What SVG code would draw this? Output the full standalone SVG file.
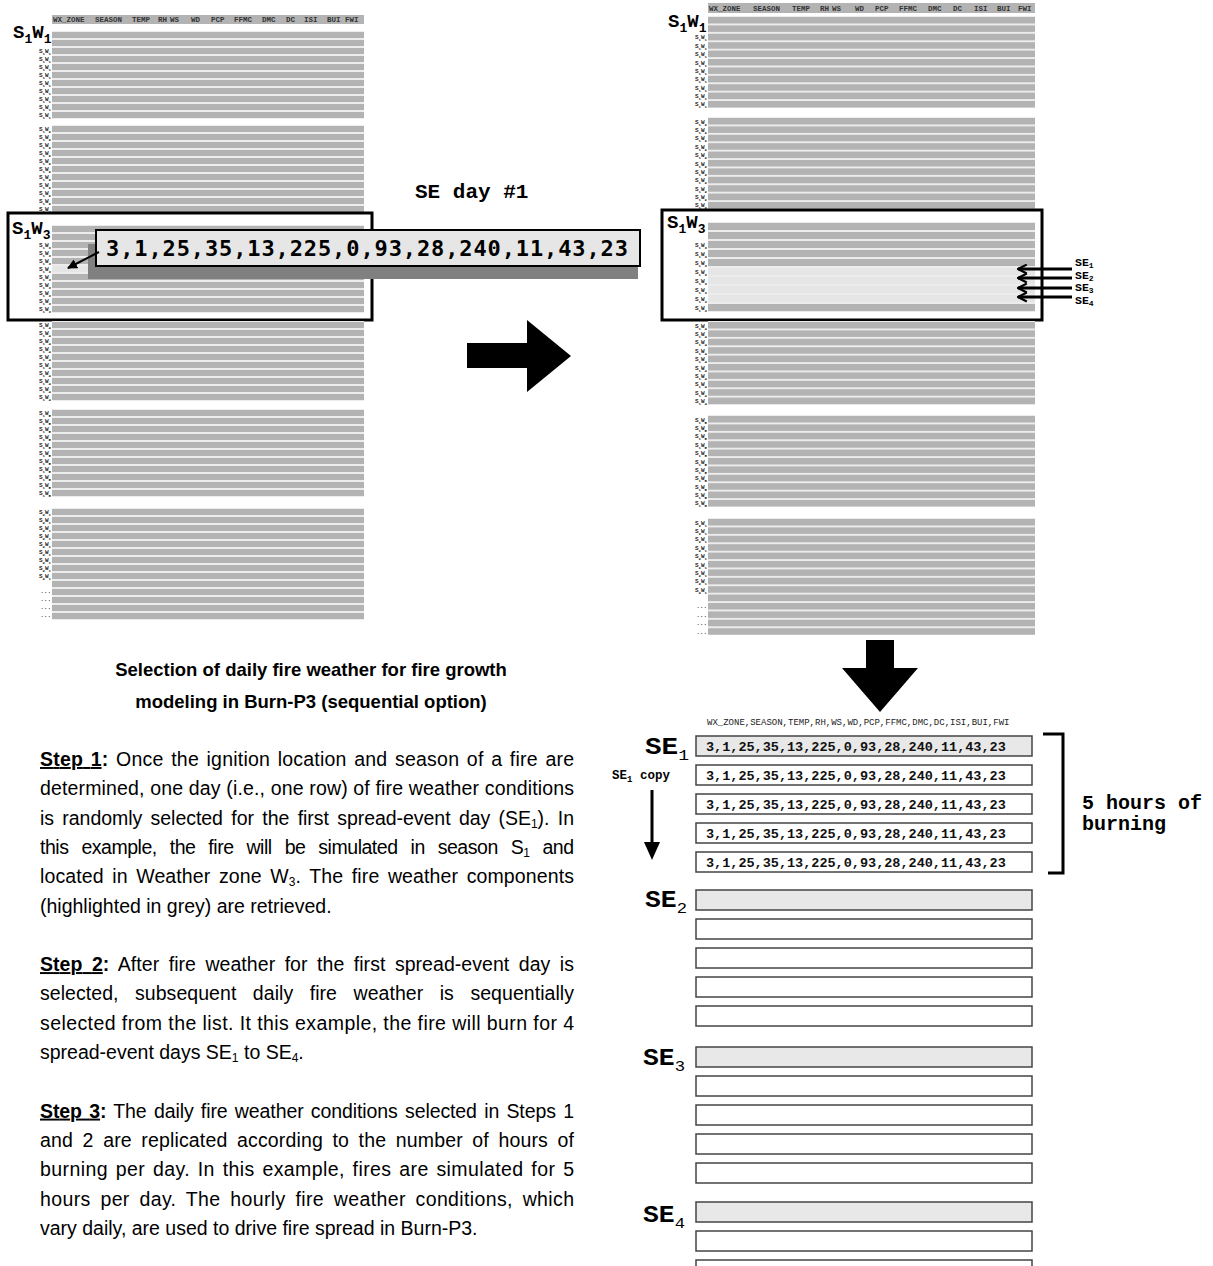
<svg xmlns="http://www.w3.org/2000/svg" width="1213" height="1266" viewBox="0 0 1213 1266">
<style>
.bar{fill:#b3b3b3}
.lt{fill:#e6e6e6}
.bg{fill:#ececec}
.sl{font-family:"Liberation Mono",monospace;font-weight:bold;font-size:6px;fill:#222}
.s{font-size:4px;baseline-shift:-1.5px}
.hd{font-family:"Liberation Mono",monospace;font-weight:bold;font-size:7.5px;fill:#333}
.big{font-family:"Liberation Mono",monospace;font-weight:bold;font-size:19px;fill:#000}
.bs{font-size:13px;baseline-shift:-5px}
.box{fill:none;stroke:#000;stroke-width:3}
.row{fill:#fff;stroke:#444;stroke-width:1.5}
.rg{fill:#e8e8e8;stroke:#444;stroke-width:1.5}
.rt{font-family:"Liberation Mono",monospace;font-weight:bold;font-size:13.5px;fill:#111}
.se{font-family:"Liberation Mono",monospace;font-weight:bold;font-size:23px;fill:#000}
.ses{font-size:15px;font-weight:normal;baseline-shift:-6px}
.mono{font-family:"Liberation Mono",monospace;font-weight:bold;fill:#000}
.body{font-family:"Liberation Sans",Arial,sans-serif;font-size:19.5px;fill:#000}
.bsub{font-size:12px;baseline-shift:-3px}
.title{font-family:"Liberation Sans",Arial,sans-serif;font-size:18.5px;font-weight:bold;fill:#000}
</style>
<defs>
<marker id="tri" viewBox="0 0 10 10" refX="9" refY="5" markerWidth="10" markerHeight="10" markerUnits="userSpaceOnUse" orient="auto"><path d="M0,0 L10,5 L0,10 z" fill="#000"/></marker>
<marker id="chev" viewBox="0 0 10 10" refX="9" refY="5" markerWidth="11" markerHeight="11" markerUnits="userSpaceOnUse" orient="auto"><path d="M1,1 L9,5 L1,9" fill="none" stroke="#000" stroke-width="2"/></marker>
</defs>
<rect width="1213" height="1266" fill="#fff"/>

<!-- LEFT TABLE -->
<g id="left-table">
<rect class="bar" x="52" y="15" width="312" height="9"/>
<text class="hd" y="22"><tspan x="53">WX_ZONE</tspan><tspan x="95">SEASON</tspan><tspan x="132">TEMP</tspan><tspan x="158">RH</tspan><tspan x="170">WS</tspan><tspan x="191">WD</tspan><tspan x="211">PCP</tspan><tspan x="234">FFMC</tspan><tspan x="262">DMC</tspan><tspan x="286">DC</tspan><tspan x="304">ISI</tspan><tspan x="327">BUI</tspan><tspan x="345">FWI</tspan></text>
<g id="left-g1">
<rect class="bg" x="52" y="31" width="312" height="88"/>
<rect class="bar" x="52" y="32" width="312" height="6"/><rect class="bar" x="52" y="40" width="312" height="6"/><rect class="bar" x="52" y="48" width="312" height="6"/><rect class="bar" x="52" y="56" width="312" height="6"/><rect class="bar" x="52" y="64" width="312" height="6"/><rect class="bar" x="52" y="72" width="312" height="6"/><rect class="bar" x="52" y="80" width="312" height="6"/><rect class="bar" x="52" y="88" width="312" height="6"/><rect class="bar" x="52" y="96" width="312" height="6"/><rect class="bar" x="52" y="104" width="312" height="6"/><rect class="bar" x="52" y="112" width="312" height="6"/>
<text class="big" x="13" y="38">S<tspan class="bs">1</tspan>W<tspan class="bs">1</tspan></text>
<g class="sl" text-anchor="end">
<text x="51" y="53">S<tspan class="s">1</tspan>W<tspan class="s">1</tspan></text><text x="51" y="61">S<tspan class="s">1</tspan>W<tspan class="s">1</tspan></text><text x="51" y="69">S<tspan class="s">1</tspan>W<tspan class="s">1</tspan></text><text x="51" y="77">S<tspan class="s">1</tspan>W<tspan class="s">1</tspan></text><text x="51" y="85">S<tspan class="s">1</tspan>W<tspan class="s">1</tspan></text><text x="51" y="93">S<tspan class="s">1</tspan>W<tspan class="s">1</tspan></text><text x="51" y="101">S<tspan class="s">1</tspan>W<tspan class="s">1</tspan></text><text x="51" y="109">S<tspan class="s">1</tspan>W<tspan class="s">1</tspan></text><text x="51" y="117">S<tspan class="s">1</tspan>W<tspan class="s">1</tspan></text>
</g>
</g>
<g id="left-g2">
<rect class="bg" x="52" y="125" width="312" height="88"/>
<rect class="bar" x="52" y="126" width="312" height="6"/><rect class="bar" x="52" y="134" width="312" height="6"/><rect class="bar" x="52" y="142" width="312" height="6"/><rect class="bar" x="52" y="150" width="312" height="6"/><rect class="bar" x="52" y="158" width="312" height="6"/><rect class="bar" x="52" y="166" width="312" height="6"/><rect class="bar" x="52" y="174" width="312" height="6"/><rect class="bar" x="52" y="182" width="312" height="6"/><rect class="bar" x="52" y="190" width="312" height="6"/><rect class="bar" x="52" y="198" width="312" height="6"/><rect class="bar" x="52" y="206" width="312" height="6"/>
<g class="sl" text-anchor="end">
<text x="51" y="131">S<tspan class="s">1</tspan>W<tspan class="s">2</tspan></text><text x="51" y="139">S<tspan class="s">1</tspan>W<tspan class="s">2</tspan></text><text x="51" y="147">S<tspan class="s">1</tspan>W<tspan class="s">2</tspan></text><text x="51" y="155">S<tspan class="s">1</tspan>W<tspan class="s">2</tspan></text><text x="51" y="163">S<tspan class="s">1</tspan>W<tspan class="s">2</tspan></text><text x="51" y="171">S<tspan class="s">1</tspan>W<tspan class="s">2</tspan></text><text x="51" y="179">S<tspan class="s">1</tspan>W<tspan class="s">2</tspan></text><text x="51" y="187">S<tspan class="s">1</tspan>W<tspan class="s">2</tspan></text><text x="51" y="195">S<tspan class="s">1</tspan>W<tspan class="s">2</tspan></text><text x="51" y="203">S<tspan class="s">1</tspan>W<tspan class="s">2</tspan></text><text x="51" y="211">S<tspan class="s">1</tspan>W<tspan class="s">2</tspan></text>
</g>
</g>
<g id="left-g3">
<rect class="bg" x="52" y="225" width="312" height="88"/>
<rect class="bar" x="52" y="226" width="312" height="6"/><rect class="bar" x="52" y="234" width="312" height="6"/><rect class="bar" x="52" y="242" width="312" height="6"/><rect class="bar" x="52" y="250" width="312" height="6"/><rect class="bar" x="52" y="258" width="312" height="6"/><rect class="lt" x="52" y="266" width="312" height="6"/><rect class="bar" x="52" y="274" width="312" height="6"/><rect class="bar" x="52" y="282" width="312" height="6"/><rect class="bar" x="52" y="290" width="312" height="6"/><rect class="bar" x="52" y="298" width="312" height="6"/><rect class="bar" x="52" y="306" width="312" height="6"/>
<text class="big" x="12" y="234">S<tspan class="bs">1</tspan>W<tspan class="bs">3</tspan></text>
<g class="sl" text-anchor="end">
<text x="51" y="247">S<tspan class="s">1</tspan>W<tspan class="s">3</tspan></text><text x="51" y="255">S<tspan class="s">1</tspan>W<tspan class="s">3</tspan></text><text x="51" y="263">S<tspan class="s">1</tspan>W<tspan class="s">3</tspan></text><text x="51" y="271">S<tspan class="s">1</tspan>W<tspan class="s">3</tspan></text><text x="51" y="279">S<tspan class="s">1</tspan>W<tspan class="s">3</tspan></text><text x="51" y="287">S<tspan class="s">1</tspan>W<tspan class="s">3</tspan></text><text x="51" y="295">S<tspan class="s">1</tspan>W<tspan class="s">3</tspan></text><text x="51" y="303">S<tspan class="s">1</tspan>W<tspan class="s">3</tspan></text><text x="51" y="311">S<tspan class="s">1</tspan>W<tspan class="s">3</tspan></text>
</g>
<rect class="box" x="8" y="213" width="364" height="107"/>
</g>
<g id="left-g4">
<rect class="bg" x="52" y="321" width="312" height="80"/>
<rect class="bar" x="52" y="322" width="312" height="6"/><rect class="bar" x="52" y="330" width="312" height="6"/><rect class="bar" x="52" y="338" width="312" height="6"/><rect class="bar" x="52" y="346" width="312" height="6"/><rect class="bar" x="52" y="354" width="312" height="6"/><rect class="bar" x="52" y="362" width="312" height="6"/><rect class="bar" x="52" y="370" width="312" height="6"/><rect class="bar" x="52" y="378" width="312" height="6"/><rect class="bar" x="52" y="386" width="312" height="6"/><rect class="bar" x="52" y="394" width="312" height="6"/>
<g class="sl" text-anchor="end">
<text x="51" y="327">S<tspan class="s">1</tspan>W<tspan class="s">4</tspan></text><text x="51" y="335">S<tspan class="s">1</tspan>W<tspan class="s">4</tspan></text><text x="51" y="343">S<tspan class="s">1</tspan>W<tspan class="s">4</tspan></text><text x="51" y="351">S<tspan class="s">1</tspan>W<tspan class="s">4</tspan></text><text x="51" y="359">S<tspan class="s">1</tspan>W<tspan class="s">4</tspan></text><text x="51" y="367">S<tspan class="s">1</tspan>W<tspan class="s">4</tspan></text><text x="51" y="375">S<tspan class="s">1</tspan>W<tspan class="s">4</tspan></text><text x="51" y="383">S<tspan class="s">1</tspan>W<tspan class="s">4</tspan></text><text x="51" y="391">S<tspan class="s">1</tspan>W<tspan class="s">4</tspan></text><text x="51" y="399">S<tspan class="s">1</tspan>W<tspan class="s">4</tspan></text>
</g>
</g>
<g id="left-g5">
<rect class="bg" x="52" y="409" width="312" height="88"/>
<rect class="bar" x="52" y="410" width="312" height="6"/><rect class="bar" x="52" y="418" width="312" height="6"/><rect class="bar" x="52" y="426" width="312" height="6"/><rect class="bar" x="52" y="434" width="312" height="6"/><rect class="bar" x="52" y="442" width="312" height="6"/><rect class="bar" x="52" y="450" width="312" height="6"/><rect class="bar" x="52" y="458" width="312" height="6"/><rect class="bar" x="52" y="466" width="312" height="6"/><rect class="bar" x="52" y="474" width="312" height="6"/><rect class="bar" x="52" y="482" width="312" height="6"/><rect class="bar" x="52" y="490" width="312" height="6"/>
<g class="sl" text-anchor="end">
<text x="51" y="415">S<tspan class="s">1</tspan>W<tspan class="s">5</tspan></text><text x="51" y="423">S<tspan class="s">1</tspan>W<tspan class="s">5</tspan></text><text x="51" y="431">S<tspan class="s">1</tspan>W<tspan class="s">5</tspan></text><text x="51" y="439">S<tspan class="s">1</tspan>W<tspan class="s">5</tspan></text><text x="51" y="447">S<tspan class="s">1</tspan>W<tspan class="s">5</tspan></text><text x="51" y="455">S<tspan class="s">1</tspan>W<tspan class="s">5</tspan></text><text x="51" y="463">S<tspan class="s">1</tspan>W<tspan class="s">5</tspan></text><text x="51" y="471">S<tspan class="s">1</tspan>W<tspan class="s">5</tspan></text><text x="51" y="479">S<tspan class="s">1</tspan>W<tspan class="s">5</tspan></text><text x="51" y="487">S<tspan class="s">1</tspan>W<tspan class="s">5</tspan></text><text x="51" y="495">S<tspan class="s">1</tspan>W<tspan class="s">5</tspan></text>
</g>
</g>
<g id="left-g6">
<rect class="bg" x="52" y="508" width="312" height="112"/>
<rect class="bar" x="52" y="509" width="312" height="6"/><rect class="bar" x="52" y="517" width="312" height="6"/><rect class="bar" x="52" y="525" width="312" height="6"/><rect class="bar" x="52" y="533" width="312" height="6"/><rect class="bar" x="52" y="541" width="312" height="6"/><rect class="bar" x="52" y="549" width="312" height="6"/><rect class="bar" x="52" y="557" width="312" height="6"/><rect class="bar" x="52" y="565" width="312" height="6"/><rect class="bar" x="52" y="573" width="312" height="6"/><rect class="bar" x="52" y="581" width="312" height="6"/><rect class="bar" x="52" y="589" width="312" height="6"/><rect class="bar" x="52" y="597" width="312" height="6"/><rect class="bar" x="52" y="605" width="312" height="6"/><rect class="bar" x="52" y="613" width="312" height="6"/>
<g class="sl" text-anchor="end">
<text x="51" y="514">S<tspan class="s">2</tspan>W<tspan class="s">1</tspan></text><text x="51" y="522">S<tspan class="s">2</tspan>W<tspan class="s">1</tspan></text><text x="51" y="530">S<tspan class="s">2</tspan>W<tspan class="s">1</tspan></text><text x="51" y="538">S<tspan class="s">2</tspan>W<tspan class="s">1</tspan></text><text x="51" y="546">S<tspan class="s">2</tspan>W<tspan class="s">1</tspan></text><text x="51" y="554">S<tspan class="s">2</tspan>W<tspan class="s">1</tspan></text><text x="51" y="562">S<tspan class="s">2</tspan>W<tspan class="s">1</tspan></text><text x="51" y="570">S<tspan class="s">2</tspan>W<tspan class="s">1</tspan></text><text x="51" y="578">S<tspan class="s">2</tspan>W<tspan class="s">1</tspan></text>
<text x="51" y="593">...</text><text x="51" y="601">...</text><text x="51" y="609">...</text><text x="51" y="617">...</text>
</g>
</g>
</g>

<!-- POPUP -->
<g id="popup">
<rect x="88" y="244" width="550" height="35" fill="#808080"/>
<rect x="96" y="230" width="544" height="36" fill="#e6e6e6" stroke="#000" stroke-width="2"/>
<text x="106" y="256" font-family="'DejaVu Sans Mono',monospace" font-weight="bold" font-size="22" textLength="522" lengthAdjust="spacing" fill="#000">3,1,25,35,13,225,0,93,28,240,11,43,23</text>
</g>
<g id="se-day-label"><text class="mono" x="415" y="198" font-size="21">SE day #1</text></g>

<!-- RIGHT TABLE -->
<g id="right-table">
<rect class="bar" x="708" y="3" width="327" height="10"/>
<text class="hd" y="10.5"><tspan x="709">WX_ZONE</tspan><tspan x="753">SEASON</tspan><tspan x="792">TEMP</tspan><tspan x="820">RH</tspan><tspan x="832">WS</tspan><tspan x="855">WD</tspan><tspan x="875">PCP</tspan><tspan x="899">FFMC</tspan><tspan x="928">DMC</tspan><tspan x="953">DC</tspan><tspan x="974">ISI</tspan><tspan x="997">BUI</tspan><tspan x="1018">FWI</tspan></text>
<g id="right-g1">
<rect class="bg" x="708" y="16" width="327" height="92"/>
<rect class="bar" x="708" y="17" width="327" height="6.5"/><rect class="bar" x="708" y="25.4" width="327" height="6.5"/><rect class="bar" x="708" y="33.8" width="327" height="6.5"/><rect class="bar" x="708" y="42.2" width="327" height="6.5"/><rect class="bar" x="708" y="50.6" width="327" height="6.5"/><rect class="bar" x="708" y="59" width="327" height="6.5"/><rect class="bar" x="708" y="67.4" width="327" height="6.5"/><rect class="bar" x="708" y="75.8" width="327" height="6.5"/><rect class="bar" x="708" y="84.2" width="327" height="6.5"/><rect class="bar" x="708" y="92.6" width="327" height="6.5"/><rect class="bar" x="708" y="101" width="327" height="6.5"/>
<text class="big" x="668" y="27">S<tspan class="bs">1</tspan>W<tspan class="bs">1</tspan></text>
<g class="sl" text-anchor="end">
<text x="707" y="39">S<tspan class="s">1</tspan>W<tspan class="s">1</tspan></text><text x="707" y="47.5">S<tspan class="s">1</tspan>W<tspan class="s">1</tspan></text><text x="707" y="56">S<tspan class="s">1</tspan>W<tspan class="s">1</tspan></text><text x="707" y="64.5">S<tspan class="s">1</tspan>W<tspan class="s">1</tspan></text><text x="707" y="72.5">S<tspan class="s">1</tspan>W<tspan class="s">1</tspan></text><text x="707" y="81">S<tspan class="s">1</tspan>W<tspan class="s">1</tspan></text><text x="707" y="89.5">S<tspan class="s">1</tspan>W<tspan class="s">1</tspan></text><text x="707" y="98">S<tspan class="s">1</tspan>W<tspan class="s">1</tspan></text><text x="707" y="106">S<tspan class="s">1</tspan>W<tspan class="s">1</tspan></text>
</g>
</g>
<g id="right-g2">
<rect class="bg" x="708" y="117" width="327" height="92"/>
<rect class="bar" x="708" y="118" width="327" height="6.5"/><rect class="bar" x="708" y="126.4" width="327" height="6.5"/><rect class="bar" x="708" y="134.8" width="327" height="6.5"/><rect class="bar" x="708" y="143.2" width="327" height="6.5"/><rect class="bar" x="708" y="151.6" width="327" height="6.5"/><rect class="bar" x="708" y="160" width="327" height="6.5"/><rect class="bar" x="708" y="168.4" width="327" height="6.5"/><rect class="bar" x="708" y="176.8" width="327" height="6.5"/><rect class="bar" x="708" y="185.2" width="327" height="6.5"/><rect class="bar" x="708" y="193.6" width="327" height="6.5"/><rect class="bar" x="708" y="202" width="327" height="6.5"/>
<g class="sl" text-anchor="end">
<text x="707" y="123.5">S<tspan class="s">1</tspan>W<tspan class="s">2</tspan></text><text x="707" y="131.5">S<tspan class="s">1</tspan>W<tspan class="s">2</tspan></text><text x="707" y="140">S<tspan class="s">1</tspan>W<tspan class="s">2</tspan></text><text x="707" y="148.5">S<tspan class="s">1</tspan>W<tspan class="s">2</tspan></text><text x="707" y="157">S<tspan class="s">1</tspan>W<tspan class="s">2</tspan></text><text x="707" y="165.5">S<tspan class="s">1</tspan>W<tspan class="s">2</tspan></text><text x="707" y="173.5">S<tspan class="s">1</tspan>W<tspan class="s">2</tspan></text><text x="707" y="182">S<tspan class="s">1</tspan>W<tspan class="s">2</tspan></text><text x="707" y="190.5">S<tspan class="s">1</tspan>W<tspan class="s">2</tspan></text><text x="707" y="199">S<tspan class="s">1</tspan>W<tspan class="s">2</tspan></text><text x="707" y="207">S<tspan class="s">1</tspan>W<tspan class="s">2</tspan></text>
</g>
</g>
<g id="right-g3">
<rect class="bg" x="708" y="222" width="327" height="90"/>
<rect class="bar" x="708" y="223" width="327" height="7"/><rect class="bar" x="708" y="232" width="327" height="7"/><rect class="bar" x="708" y="241" width="327" height="7"/><rect class="bar" x="708" y="250" width="327" height="7"/><rect class="bar" x="708" y="259" width="327" height="7"/><rect class="lt" x="708" y="268" width="327" height="7"/><rect class="lt" x="708" y="277" width="327" height="7"/><rect class="lt" x="708" y="286" width="327" height="7"/><rect class="lt" x="708" y="295" width="327" height="7"/><rect class="bar" x="708" y="304" width="327" height="7"/>
<text class="big" x="667" y="228">S<tspan class="bs">1</tspan>W<tspan class="bs">3</tspan></text>
<g class="sl" text-anchor="end">
<text x="707" y="246.5">S<tspan class="s">1</tspan>W<tspan class="s">3</tspan></text><text x="707" y="255.5">S<tspan class="s">1</tspan>W<tspan class="s">3</tspan></text><text x="707" y="264.5">S<tspan class="s">1</tspan>W<tspan class="s">3</tspan></text><text x="707" y="273.5">S<tspan class="s">1</tspan>W<tspan class="s">3</tspan></text><text x="707" y="282.5">S<tspan class="s">1</tspan>W<tspan class="s">3</tspan></text><text x="707" y="291.5">S<tspan class="s">1</tspan>W<tspan class="s">3</tspan></text><text x="707" y="300.5">S<tspan class="s">1</tspan>W<tspan class="s">3</tspan></text><text x="707" y="309.5">S<tspan class="s">1</tspan>W<tspan class="s">3</tspan></text>
</g>
<rect class="box" x="662" y="210" width="380" height="110"/>
</g>
<g id="right-g4">
<rect class="bg" x="708" y="321" width="327" height="84"/>
<rect class="bar" x="708" y="322" width="327" height="6.5"/><rect class="bar" x="708" y="330.4" width="327" height="6.5"/><rect class="bar" x="708" y="338.8" width="327" height="6.5"/><rect class="bar" x="708" y="347.2" width="327" height="6.5"/><rect class="bar" x="708" y="355.6" width="327" height="6.5"/><rect class="bar" x="708" y="364" width="327" height="6.5"/><rect class="bar" x="708" y="372.4" width="327" height="6.5"/><rect class="bar" x="708" y="380.8" width="327" height="6.5"/><rect class="bar" x="708" y="389.2" width="327" height="6.5"/><rect class="bar" x="708" y="397.6" width="327" height="6.5"/>
<g class="sl" text-anchor="end">
<text x="707" y="327.5">S<tspan class="s">1</tspan>W<tspan class="s">4</tspan></text><text x="707" y="335.5">S<tspan class="s">1</tspan>W<tspan class="s">4</tspan></text><text x="707" y="344">S<tspan class="s">1</tspan>W<tspan class="s">4</tspan></text><text x="707" y="352.5">S<tspan class="s">1</tspan>W<tspan class="s">4</tspan></text><text x="707" y="361">S<tspan class="s">1</tspan>W<tspan class="s">4</tspan></text><text x="707" y="369.5">S<tspan class="s">1</tspan>W<tspan class="s">4</tspan></text><text x="707" y="377.5">S<tspan class="s">1</tspan>W<tspan class="s">4</tspan></text><text x="707" y="386">S<tspan class="s">1</tspan>W<tspan class="s">4</tspan></text><text x="707" y="394.5">S<tspan class="s">1</tspan>W<tspan class="s">4</tspan></text><text x="707" y="403">S<tspan class="s">1</tspan>W<tspan class="s">4</tspan></text>
</g>
</g>
<g id="right-g5">
<rect class="bg" x="708" y="415" width="327" height="92"/>
<rect class="bar" x="708" y="416" width="327" height="6.5"/><rect class="bar" x="708" y="424.4" width="327" height="6.5"/><rect class="bar" x="708" y="432.8" width="327" height="6.5"/><rect class="bar" x="708" y="441.2" width="327" height="6.5"/><rect class="bar" x="708" y="449.6" width="327" height="6.5"/><rect class="bar" x="708" y="458" width="327" height="6.5"/><rect class="bar" x="708" y="466.4" width="327" height="6.5"/><rect class="bar" x="708" y="474.8" width="327" height="6.5"/><rect class="bar" x="708" y="483.2" width="327" height="6.5"/><rect class="bar" x="708" y="491.6" width="327" height="6.5"/><rect class="bar" x="708" y="500" width="327" height="6.5"/>
<g class="sl" text-anchor="end">
<text x="707" y="421.5">S<tspan class="s">1</tspan>W<tspan class="s">5</tspan></text><text x="707" y="429.5">S<tspan class="s">1</tspan>W<tspan class="s">5</tspan></text><text x="707" y="438">S<tspan class="s">1</tspan>W<tspan class="s">5</tspan></text><text x="707" y="446.5">S<tspan class="s">1</tspan>W<tspan class="s">5</tspan></text><text x="707" y="455">S<tspan class="s">1</tspan>W<tspan class="s">5</tspan></text><text x="707" y="463.5">S<tspan class="s">1</tspan>W<tspan class="s">5</tspan></text><text x="707" y="471.5">S<tspan class="s">1</tspan>W<tspan class="s">5</tspan></text><text x="707" y="480">S<tspan class="s">1</tspan>W<tspan class="s">5</tspan></text><text x="707" y="488.5">S<tspan class="s">1</tspan>W<tspan class="s">5</tspan></text><text x="707" y="497">S<tspan class="s">1</tspan>W<tspan class="s">5</tspan></text><text x="707" y="505">S<tspan class="s">1</tspan>W<tspan class="s">5</tspan></text>
</g>
</g>
<g id="right-g6">
<rect class="bg" x="708" y="518" width="327" height="117"/>
<rect class="bar" x="708" y="519" width="327" height="6.5"/><rect class="bar" x="708" y="527.4" width="327" height="6.5"/><rect class="bar" x="708" y="535.8" width="327" height="6.5"/><rect class="bar" x="708" y="544.2" width="327" height="6.5"/><rect class="bar" x="708" y="552.6" width="327" height="6.5"/><rect class="bar" x="708" y="561" width="327" height="6.5"/><rect class="bar" x="708" y="569.4" width="327" height="6.5"/><rect class="bar" x="708" y="577.8" width="327" height="6.5"/><rect class="bar" x="708" y="586.2" width="327" height="6.5"/><rect class="bar" x="708" y="594.6" width="327" height="6.5"/><rect class="bar" x="708" y="603" width="327" height="6.5"/><rect class="bar" x="708" y="611.4" width="327" height="6.5"/><rect class="bar" x="708" y="619.8" width="327" height="6.5"/><rect class="bar" x="708" y="628.2" width="327" height="6.5"/>
<g class="sl" text-anchor="end">
<text x="707" y="524.5">S<tspan class="s">2</tspan>W<tspan class="s">1</tspan></text><text x="707" y="532.5">S<tspan class="s">2</tspan>W<tspan class="s">1</tspan></text><text x="707" y="541">S<tspan class="s">2</tspan>W<tspan class="s">1</tspan></text><text x="707" y="549.5">S<tspan class="s">2</tspan>W<tspan class="s">1</tspan></text><text x="707" y="558">S<tspan class="s">2</tspan>W<tspan class="s">1</tspan></text><text x="707" y="566.5">S<tspan class="s">2</tspan>W<tspan class="s">1</tspan></text><text x="707" y="574.5">S<tspan class="s">2</tspan>W<tspan class="s">1</tspan></text><text x="707" y="583">S<tspan class="s">2</tspan>W<tspan class="s">1</tspan></text><text x="707" y="591.5">S<tspan class="s">2</tspan>W<tspan class="s">1</tspan></text>
<text x="707" y="608">...</text><text x="707" y="616.5">...</text><text x="707" y="625">...</text><text x="707" y="633.5">...</text>
</g>
</g>
</g>

<!-- SE labels on right -->
<g id="se-labels" class="mono" font-size="11.5">
<text x="1075" y="266">SE<tspan style="font-size:8px;baseline-shift:-2px">1</tspan></text>
<text x="1075" y="278.5">SE<tspan style="font-size:8px;baseline-shift:-2px">2</tspan></text>
<text x="1075" y="291">SE<tspan style="font-size:8px;baseline-shift:-2px">3</tspan></text>
<text x="1075" y="303.5">SE<tspan style="font-size:8px;baseline-shift:-2px">4</tspan></text>
</g>

<!-- BOTTOM TABLE -->
<g id="hourly-table">
<text x="707" y="725" font-family="'Liberation Mono',monospace" font-size="9" fill="#222">WX_ZONE,SEASON,TEMP,RH,WS,WD,PCP,FFMC,DMC,DC,ISI,BUI,FWI</text>
<g id="se1-rows">
<rect class="rg" x="696" y="736" width="336" height="20"/>
<rect class="row" x="696" y="765" width="336" height="20"/>
<rect class="row" x="696" y="794" width="336" height="20"/>
<rect class="row" x="696" y="823" width="336" height="20"/>
<rect class="row" x="696" y="852" width="336" height="20"/>
<text class="rt" x="706" y="750.5">3,1,25,35,13,225,0,93,28,240,11,43,23</text>
<text class="rt" x="706" y="779.5">3,1,25,35,13,225,0,93,28,240,11,43,23</text>
<text class="rt" x="706" y="808.5">3,1,25,35,13,225,0,93,28,240,11,43,23</text>
<text class="rt" x="706" y="837.5">3,1,25,35,13,225,0,93,28,240,11,43,23</text>
<text class="rt" x="706" y="866.5">3,1,25,35,13,225,0,93,28,240,11,43,23</text>
<text class="se" x="645" y="754" textLength="44" lengthAdjust="spacingAndGlyphs">SE<tspan class="ses">1</tspan></text>
<text class="mono" x="612" y="779" font-size="12.5">SE<tspan style="font-size:9px;baseline-shift:-3px">1</tspan> copy</text>
</g>
<g id="se2-rows">
<rect class="rg" x="696" y="890" width="336" height="20"/>
<rect class="row" x="696" y="919" width="336" height="20"/>
<rect class="row" x="696" y="948" width="336" height="20"/>
<rect class="row" x="696" y="977" width="336" height="20"/>
<rect class="row" x="696" y="1006" width="336" height="20"/>
<text class="se" x="645" y="907" textLength="42" lengthAdjust="spacingAndGlyphs">SE<tspan class="ses">2</tspan></text>
</g>
<g id="se3-rows">
<rect class="rg" x="696" y="1047" width="336" height="20"/>
<rect class="row" x="696" y="1076" width="336" height="20"/>
<rect class="row" x="696" y="1105" width="336" height="20"/>
<rect class="row" x="696" y="1134" width="336" height="20"/>
<rect class="row" x="696" y="1163" width="336" height="20"/>
<text class="se" x="643" y="1065" textLength="42" lengthAdjust="spacingAndGlyphs">SE<tspan class="ses">3</tspan></text>
</g>
<g id="se4-rows">
<rect class="rg" x="696" y="1202" width="336" height="20"/>
<rect class="row" x="696" y="1231" width="336" height="20"/>
<rect class="row" x="696" y="1260" width="336" height="20"/>
<text class="se" x="643" y="1222" textLength="42" lengthAdjust="spacingAndGlyphs">SE<tspan class="ses">4</tspan></text>
</g>
<g id="burning-label">
<text class="mono" x="1082" y="809" font-size="20">5 hours of</text>
<text class="mono" x="1082" y="830" font-size="20">burning</text>
</g>
</g>

<!-- CONNECTORS -->
<g id="connectors">
<line x1="99" y1="252" x2="68" y2="268" stroke="#000" stroke-width="2" marker-end="url(#tri)"/>
<polygon points="467,343 527,343 527,320 571,356 527,392 527,368 467,368" fill="#000"/>
<polygon points="866,640 894,640 894,668 918,668 880,712 842,668 866,668" fill="#000"/>
<line x1="1072" y1="269" x2="1018" y2="269" stroke="#000" stroke-width="3" marker-end="url(#chev)"/>
<line x1="1072" y1="278" x2="1018" y2="278" stroke="#000" stroke-width="3" marker-end="url(#chev)"/>
<line x1="1072" y1="288" x2="1018" y2="288" stroke="#000" stroke-width="3" marker-end="url(#chev)"/>
<line x1="1072" y1="297" x2="1018" y2="297" stroke="#000" stroke-width="3" marker-end="url(#chev)"/>
<line x1="652" y1="790" x2="652" y2="845" stroke="#000" stroke-width="3"/>
<polygon points="644,842 660,842 652,860" fill="#000"/>
<path d="M1043,734 H1063 V873 H1048" fill="none" stroke="#000" stroke-width="3"/>
</g>

<!-- TEXT -->
<g id="description">
<text class="title" x="311" y="676" text-anchor="middle">Selection of daily fire weather for fire growth</text>
<text class="title" x="311" y="708" text-anchor="middle">modeling in Burn-P3 (sequential option)</text>
<g class="body">
<text x="40" y="766" textLength="534" lengthAdjust="spacing" word-spacing="2"><tspan font-weight="bold" text-decoration="underline">Step 1</tspan><tspan font-weight="bold">:</tspan> Once the ignition location and season of a fire are</text>
<text x="40" y="795.3" textLength="534" lengthAdjust="spacing">determined, one day (i.e., one row) of fire weather conditions</text>
<text x="40" y="824.6" textLength="534" lengthAdjust="spacing" word-spacing="3">is randomly selected for the first spread-event day (SE<tspan class="bsub">1</tspan>). In</text>
<text x="40" y="853.9" textLength="534" lengthAdjust="spacing" word-spacing="8">this example, the fire will be simulated in season S<tspan class="bsub">1</tspan> and</text>
<text x="40" y="883.2" textLength="534" lengthAdjust="spacing" word-spacing="3">located in Weather zone W<tspan class="bsub">3</tspan>. The fire weather components</text>
<text x="40" y="912.5">(highlighted in grey) are retrieved.</text>
<text x="40" y="971.1" textLength="534" lengthAdjust="spacing" word-spacing="4"><tspan font-weight="bold" text-decoration="underline">Step 2</tspan><tspan font-weight="bold">:</tspan> After fire weather for the first spread-event day is</text>
<text x="40" y="1000.4" textLength="534" lengthAdjust="spacing" word-spacing="11">selected, subsequent daily fire weather is sequentially</text>
<text x="40" y="1029.7" textLength="534" lengthAdjust="spacing">selected from the list. It this example, the fire will burn for 4</text>
<text x="40" y="1059">spread-event days SE<tspan class="bsub">1</tspan> to SE<tspan class="bsub">4</tspan>.</text>
<text x="40" y="1117.6" textLength="534" lengthAdjust="spacing" word-spacing="2"><tspan font-weight="bold" text-decoration="underline">Step 3</tspan><tspan font-weight="bold">:</tspan> The daily fire weather conditions selected in Steps 1</text>
<text x="40" y="1146.9" textLength="534" lengthAdjust="spacing" word-spacing="4">and 2 are replicated according to the number of hours of</text>
<text x="40" y="1176.2" textLength="534" lengthAdjust="spacing" word-spacing="2">burning per day. In this example, fires are simulated for 5</text>
<text x="40" y="1205.5" textLength="534" lengthAdjust="spacing" word-spacing="4">hours per day. The hourly fire weather conditions, which</text>
<text x="40" y="1234.8">vary daily, are used to drive fire spread in Burn-P3.</text>
</g>
</g>
</svg>
